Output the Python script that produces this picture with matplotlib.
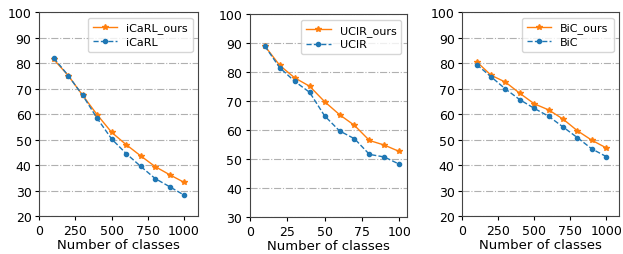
import numpy as np
import matplotlib
matplotlib.use("Agg")
import matplotlib.pyplot as plt

# ---- data ----
x_imagenet = [100, 200, 300, 400, 500, 600, 700, 800, 900, 1000]
x_cifar = [10, 20, 30, 40, 50, 60, 70, 80, 90, 100]

icarl_ours = [81.4, 75.1, 67.3, 59.7, 52.8, 48.0, 43.6, 39.4, 36.2, 33.2]
icarl = [82.0, 75.1, 67.3, 58.3, 50.2, 44.5, 39.5, 34.7, 31.5, 28.2]

ucir_ours = [89.0, 82.3, 78.0, 75.1, 69.8, 65.3, 61.6, 56.4, 54.8, 52.6]
ucir = [89.0, 81.5, 76.8, 73.0, 64.9, 59.7, 57.0, 51.6, 50.7, 48.2]

bic_ours = [80.5, 75.2, 72.5, 68.1, 64.0, 61.6, 58.0, 53.4, 49.7, 46.7]
bic = [79.4, 74.6, 69.8, 65.6, 62.2, 59.1, 54.9, 50.7, 46.3, 43.3]

panels = [
    ("iCaRL", x_imagenet, icarl_ours, icarl, (20, 100), [0, 250, 500, 750, 1000], (0, 1097)),
    ("UCIR", x_cifar, ucir_ours, ucir, (30, 100), [0, 25, 50, 75, 100], (0, 105)),
    ("BiC", x_imagenet, bic_ours, bic, (20, 100), [0, 250, 500, 750, 1000], (0, 1090)),
]

# axes boxes in figure fractions (left, bottom, width, height)
boxes = [
    (0.063, 0.149, 0.255, 0.800),
    (0.401, 0.145, 0.252, 0.796),
    (0.742, 0.149, 0.252, 0.800),
]

fig = plt.figure(figsize=(6.23, 2.55), dpi=100)

for (name, x, ours, base, ylim, xticks, xlim), box in zip(panels, boxes):
    ax = fig.add_axes(box)
    ax.plot(x, ours, color="#ff7f0e", linestyle="-", marker="*",
            markersize=4, linewidth=1.0, label=name + "_ours")
    ax.plot(x, base, color="#1f77b4", linestyle="--", marker="o",
            markersize=3, linewidth=1.0, label=name)
    ax.set_ylim(*ylim)
    ax.set_xlim(*xlim)
    ax.set_xticks(xticks)
    ax.set_yticks(np.arange(ylim[0], 101, 10))
    ax.yaxis.grid(True, linestyle="-.", color="#b0b0b0", linewidth=0.8)
    ax.set_axisbelow(True)
    ax.tick_params(labelsize=9, length=3, pad=2.5)
    ax.set_xlabel("Number of classes", fontsize=9.5, labelpad=1)
    ax.legend(loc="upper right", fontsize=8, handlelength=2.2,
              borderpad=0.45, labelspacing=0.35)
    for s in ax.spines.values():
        s.set_color("#444444")

fig.savefig("out.png", dpi=100)
